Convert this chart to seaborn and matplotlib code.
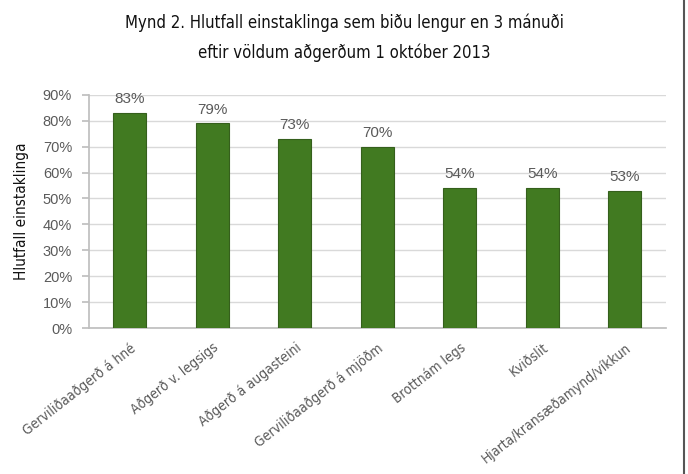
import matplotlib
matplotlib.use("Agg")
import matplotlib.pyplot as plt
import seaborn as sns
import pandas as pd
from matplotlib.lines import Line2D

# Share of people waiting longer than 3 months, by procedure (1 Oct 2013)
procedures = [
    "Gerviliðaaðgerð á hné",
    "Aðgerð v. legsigs",
    "Aðgerð á augasteini",
    "Gerviliðaaðgerð á mjöðm",
    "Brottnám legs",
    "Kviðslit",
    "Hjarta/kransæðamynd/víkkun",
]
share_pct = [83, 79, 73, 70, 54, 54, 53]
ytick_labels = ["0%", "10%", "20%", "30%", "40%", "50%", "60%", "70%", "80%", "90%"]

df = pd.DataFrame({"procedure": procedures, "share": share_pct})

sns.set_theme(style="white")
narrow = ["DejaVu Sans", "Liberation Sans"]
plain = ["Liberation Sans", "DejaVu Sans"]
grey = "#5a5a5a"

fig = plt.figure(figsize=(6.88, 4.74), dpi=100)
ax = fig.add_axes([0.129, 0.308, 0.839, 0.492])

sns.barplot(data=df, x="procedure", y="share", color="#417a21",
            saturation=1, width=0.4, edgecolor="#355f1c", linewidth=0.8, ax=ax,
            zorder=3)

ax.set_ylim(0, 90)
ax.set_yticks(range(0, 91, 10))
ax.set_yticklabels(ytick_labels, fontsize=10.5, color=grey, family=plain)
ax.yaxis.grid(True, color="#d9d9d9", linewidth=1.0, zorder=0)
ax.set_axisbelow(True)
for s in ["top", "right"]:
    ax.spines[s].set_visible(False)
ax.spines["left"].set_color("#bfbfbf")
ax.spines["bottom"].set_color("#bfbfbf")
ax.tick_params(axis="y", length=5, color="#bfbfbf", pad=7, left=True)
ax.tick_params(axis="x", length=0, pad=9)

ax.set_xticks(range(len(procedures)))
ax.set_xticklabels(procedures, rotation=38, ha="right", rotation_mode="anchor",
                   fontsize=10, color=grey, family=narrow,
                   fontstretch="condensed")
ax.set_xlabel("")
ax.set_ylabel("Hlutfall einstaklinga", fontsize=11, family=narrow,
              fontstretch="condensed", color="#111111", labelpad=10)

for i, v in enumerate(share_pct):
    ax.text(i, v + 2.6, f"{v}%", ha="center", va="bottom", fontsize=11,
            color=grey, family=plain)

fig.text(0.5, 0.952, "Mynd 2. Hlutfall einstaklinga sem biðu lengur en 3 mánuði",
         ha="center", va="center", fontsize=12, family=narrow,
         fontstretch="condensed", color="#111111")
fig.text(0.5, 0.888, "eftir völdum aðgerðum 1 október 2013",
         ha="center", va="center", fontsize=12, family=narrow,
         fontstretch="condensed", color="#111111")

# frame line on the right edge
fig.add_artist(Line2D([0.9945, 0.9945], [0.0, 1.0], transform=fig.transFigure,
                      color="#555555", linewidth=1.5))

fig.savefig("out.png", dpi=100)
